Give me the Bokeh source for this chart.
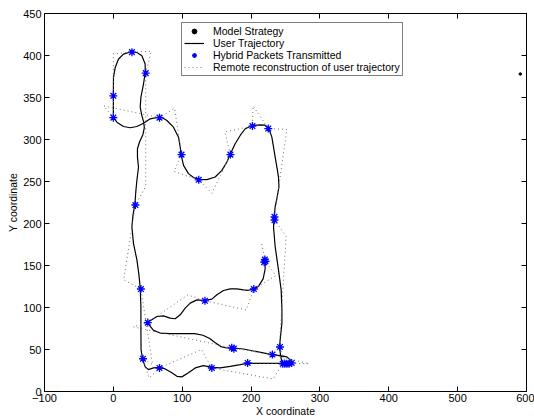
from bokeh.plotting import figure
from bokeh.models import Legend, LegendItem, LinearAxis, FixedTicker, Range1d
from bokeh.embed import file_html
from bokeh.resources import INLINE

# ---------------- data ----------------
traj_x = [200, 222, 246, 244, 242.5, 241.3, 242.3, 244.8, 244.8, 243.7, 239.8, 235, 232.6, 233.6, 233.6,
          235, 238, 240.5, 239.8, 237.5, 235, 230.2, 225.3, 220, 213.3, 202.1, 191.5, 184.2, 176.9, 169.7,
          164.9, 157.6, 147.9, 135.8, 123.6, 116.4, 109.1, 101.9, 98.1, 97.1, 94.6, 87.3, 77.8, 70, 65.6,
          53.5, 43.8, 34.2, 24.5, 14.7, 5.1, 0, 0, 0, 0.2, 2.7, 7.5, 14.7, 25.9, 34.2, 41.4, 46.2, 46.2,
          43.8, 40, 39, 41.4, 44, 45, 43, 38, 35, 35, 36.5, 34.2, 32.5, 31.3, 28.5, 26.9, 29.2, 34.2, 37,
          39, 40, 40, 40.2, 42.3, 46.2, 51, 58.3, 67, 75.3, 85, 92.3, 99.5, 109.1, 118.9, 130.9, 143.1,
          155.2, 169.7, 184.2, 194, 220, 246, 255, 259.3, 257.8, 252, 242.3, 230.2, 208.5, 189, 175,
          164.9, 156, 148, 140, 130, 118, 82.5, 68, 58.3, 53.6, 49.6, 53.5, 63.2, 72.8, 82.5, 89.8, 97.1,
          104.3, 111.6, 121.3, 132.4, 143.1, 150.4, 159.9, 169.7, 179.4, 189, 196, 204.6, 211, 217.5,
          220.5, 220]
traj_y = [33.5, 33.5, 33.5, 38, 45, 53, 61.7, 81.5, 97.3, 121, 144.7, 172.3, 196.1, 204.8, 208.8,
          220, 232, 243.5, 255.4, 267, 279.1, 302.8, 314, 317, 317.5, 316.7, 312.8, 304.8, 295, 282.3,
          273.2, 263.3, 255.4, 252.3, 252.6, 254.7, 259.4, 269.2, 283.1, 291, 302.8, 314.7, 322.6, 326.5, 326.5,
          324.6, 319.4, 315.5, 314, 315.5, 320.6, 326.5, 340, 353, 374, 385.8, 395.8, 401.7, 404.5, 403.6, 399.7, 389.9, 379.5,
          366.1, 350.3, 338.4, 328.5, 321, 314, 306, 297, 289, 279, 267, 251.5, 237, 223, 210, 196.1, 176.4, 156.6, 140,
          123, 101, 75, 50, 39.1, 29.3, 26.1, 28.1, 28.8, 26.9, 22.2, 18.1, 17.4, 22.2, 28.1, 30.8, 28.8,
          28.1, 30, 32, 33.5, 33.5, 33.5, 33.5, 34.5, 37.1, 41.2, 42.7, 43.9, 47.4, 50.6, 51.8,
          51.8, 53.5, 58, 63, 67, 69, 68.8, 69.6, 72.7, 77.5, 83, 84.2, 89.3, 90.1, 87.4, 86.6, 91.3,
          99.3, 105.2, 109.1, 108.3, 110, 115.1, 120.2, 122.2, 122.2, 121, 120.5, 121.9, 125.4, 134,
          146, 156]

pkt_x = [27, 47, 0, 0, 67, 99, 124, 170, 202, 225, 234, 234, 32, 40, 50, 133, 204, 220, 219, 221,
         242, 231, 172, 175, 43, 67, 143, 195, 246, 249, 252, 255, 259]
pkt_y = [404, 379, 352, 326, 326, 282, 252, 282, 316, 313, 208, 204, 222, 122, 82, 108, 122, 157, 154, 155,
         53, 44, 52, 51, 39, 28, 28, 34, 33, 33, 33, 33, 34]

rec_x = [195, 240, 247, 249, 241, 251, 234, 234, 252, 225, 203, 202, 162, 170, 143, 124, 88, 99, 89, 67,
         -14, 0, 0, 0, 0, 27, 55, 47, 47, 32, 15, 40, 57, 43, 52, 67, 128, 143, 232, 242, 252, 284,
         231, 200, 172, 29, 50, 108, 133, 193, 204, 236, 220, 215]
rec_y = [34, 33.5, 33.5, 38, 53, 185, 204, 208, 312, 313, 340, 316, 309, 282, 236, 252, 262, 282, 337, 326,
         340, 326, 350, 352, 402, 404, 405, 379, 244, 222, 133, 122, 32, 39, 16, 28, 50, 28, 15, 28, 33.5, 33,
         44, 48, 52, 77, 82, 115, 108, 97, 122, 138, 156, 178]

model_x = [591]
model_y = [378]

x_ticks = [-100, 0, 100, 200, 300, 400, 500, 600]
y_ticks = [0, 50, 100, 150, 200, 250, 300, 350, 400, 450]

FONT = "Liberation Sans"

p = figure(width=534, height=419, output_backend="svg", toolbar_location=None,
           x_range=Range1d(-100, 600), y_range=Range1d(0, 450),
           min_border_left=44, min_border_right=8, min_border_top=13, min_border_bottom=26,
           x_axis_label="X coordinate", y_axis_label="Y coordinate")
p.grid.visible = False
p.outline_line_color = "black"
p.background_fill_color = "white"
p.border_fill_color = "white"

for ax in (p.xaxis[0], p.yaxis[0]):
    ax.major_tick_in = 5
    ax.major_tick_out = 0
    ax.minor_tick_line_color = None
    ax.axis_line_color = "black"
    ax.major_tick_line_color = "black"
    ax.major_label_text_font = FONT
    ax.major_label_text_font_size = "11px"
    ax.major_label_text_color = "black"
    ax.major_label_standoff = 3
    ax.axis_label_text_font = FONT
    ax.axis_label_text_font_size = "10.5px"
    ax.axis_label_text_font_style = "normal"
    ax.axis_label_text_color = "black"
    ax.axis_label_standoff = 1
p.xaxis[0].major_label_standoff = 2
p.xaxis[0].axis_label_standoff = 0
p.xaxis[0].ticker = FixedTicker(ticks=x_ticks)
p.yaxis[0].ticker = FixedTicker(ticks=y_ticks)
p.xaxis[0].major_label_overrides = {-100: "\u2212100"}

for loc, ticks in (("right", y_ticks), ("above", x_ticks)):
    ax = LinearAxis(ticker=FixedTicker(ticks=ticks), major_tick_in=5, major_tick_out=0,
                    minor_tick_line_color=None, axis_line_color="black",
                    major_label_text_font_size="0px", major_label_standoff=0,
                    major_label_overrides={t: "" for t in ticks})
    p.add_layout(ax, loc)

r_model = p.scatter(model_x, model_y, marker="circle", size=2.5, color="black")
r_traj = p.line(traj_x, traj_y, line_color="black", line_width=1.2)
r_rec = p.line(rec_x, rec_y, line_color="#707070", line_width=1, line_dash="1 3")
r_pkt = p.scatter(pkt_x, pkt_y, marker="asterisk", size=8, line_color="#0000ff", line_width=1.3)

legend = Legend(items=[
    LegendItem(label="Model Strategy", renderers=[r_model]),
    LegendItem(label="User Trajectory", renderers=[r_traj]),
    LegendItem(label="Hybrid Packets Transmitted", renderers=[r_pkt]),
    LegendItem(label="Remote reconstruction of user trajectory", renderers=[r_rec]),
], location=(137, 315), margin=0, padding=2, spacing=0,
    label_height=12, glyph_height=12, glyph_width=20, label_standoff=9,
    label_text_font=FONT, label_text_font_size="10.5px", label_text_color="black",
    border_line_color="black", border_line_width=1, background_fill_color="white",
    background_fill_alpha=1)
p.add_layout(legend)

open("out.html", "w").write(file_html(p, INLINE))
